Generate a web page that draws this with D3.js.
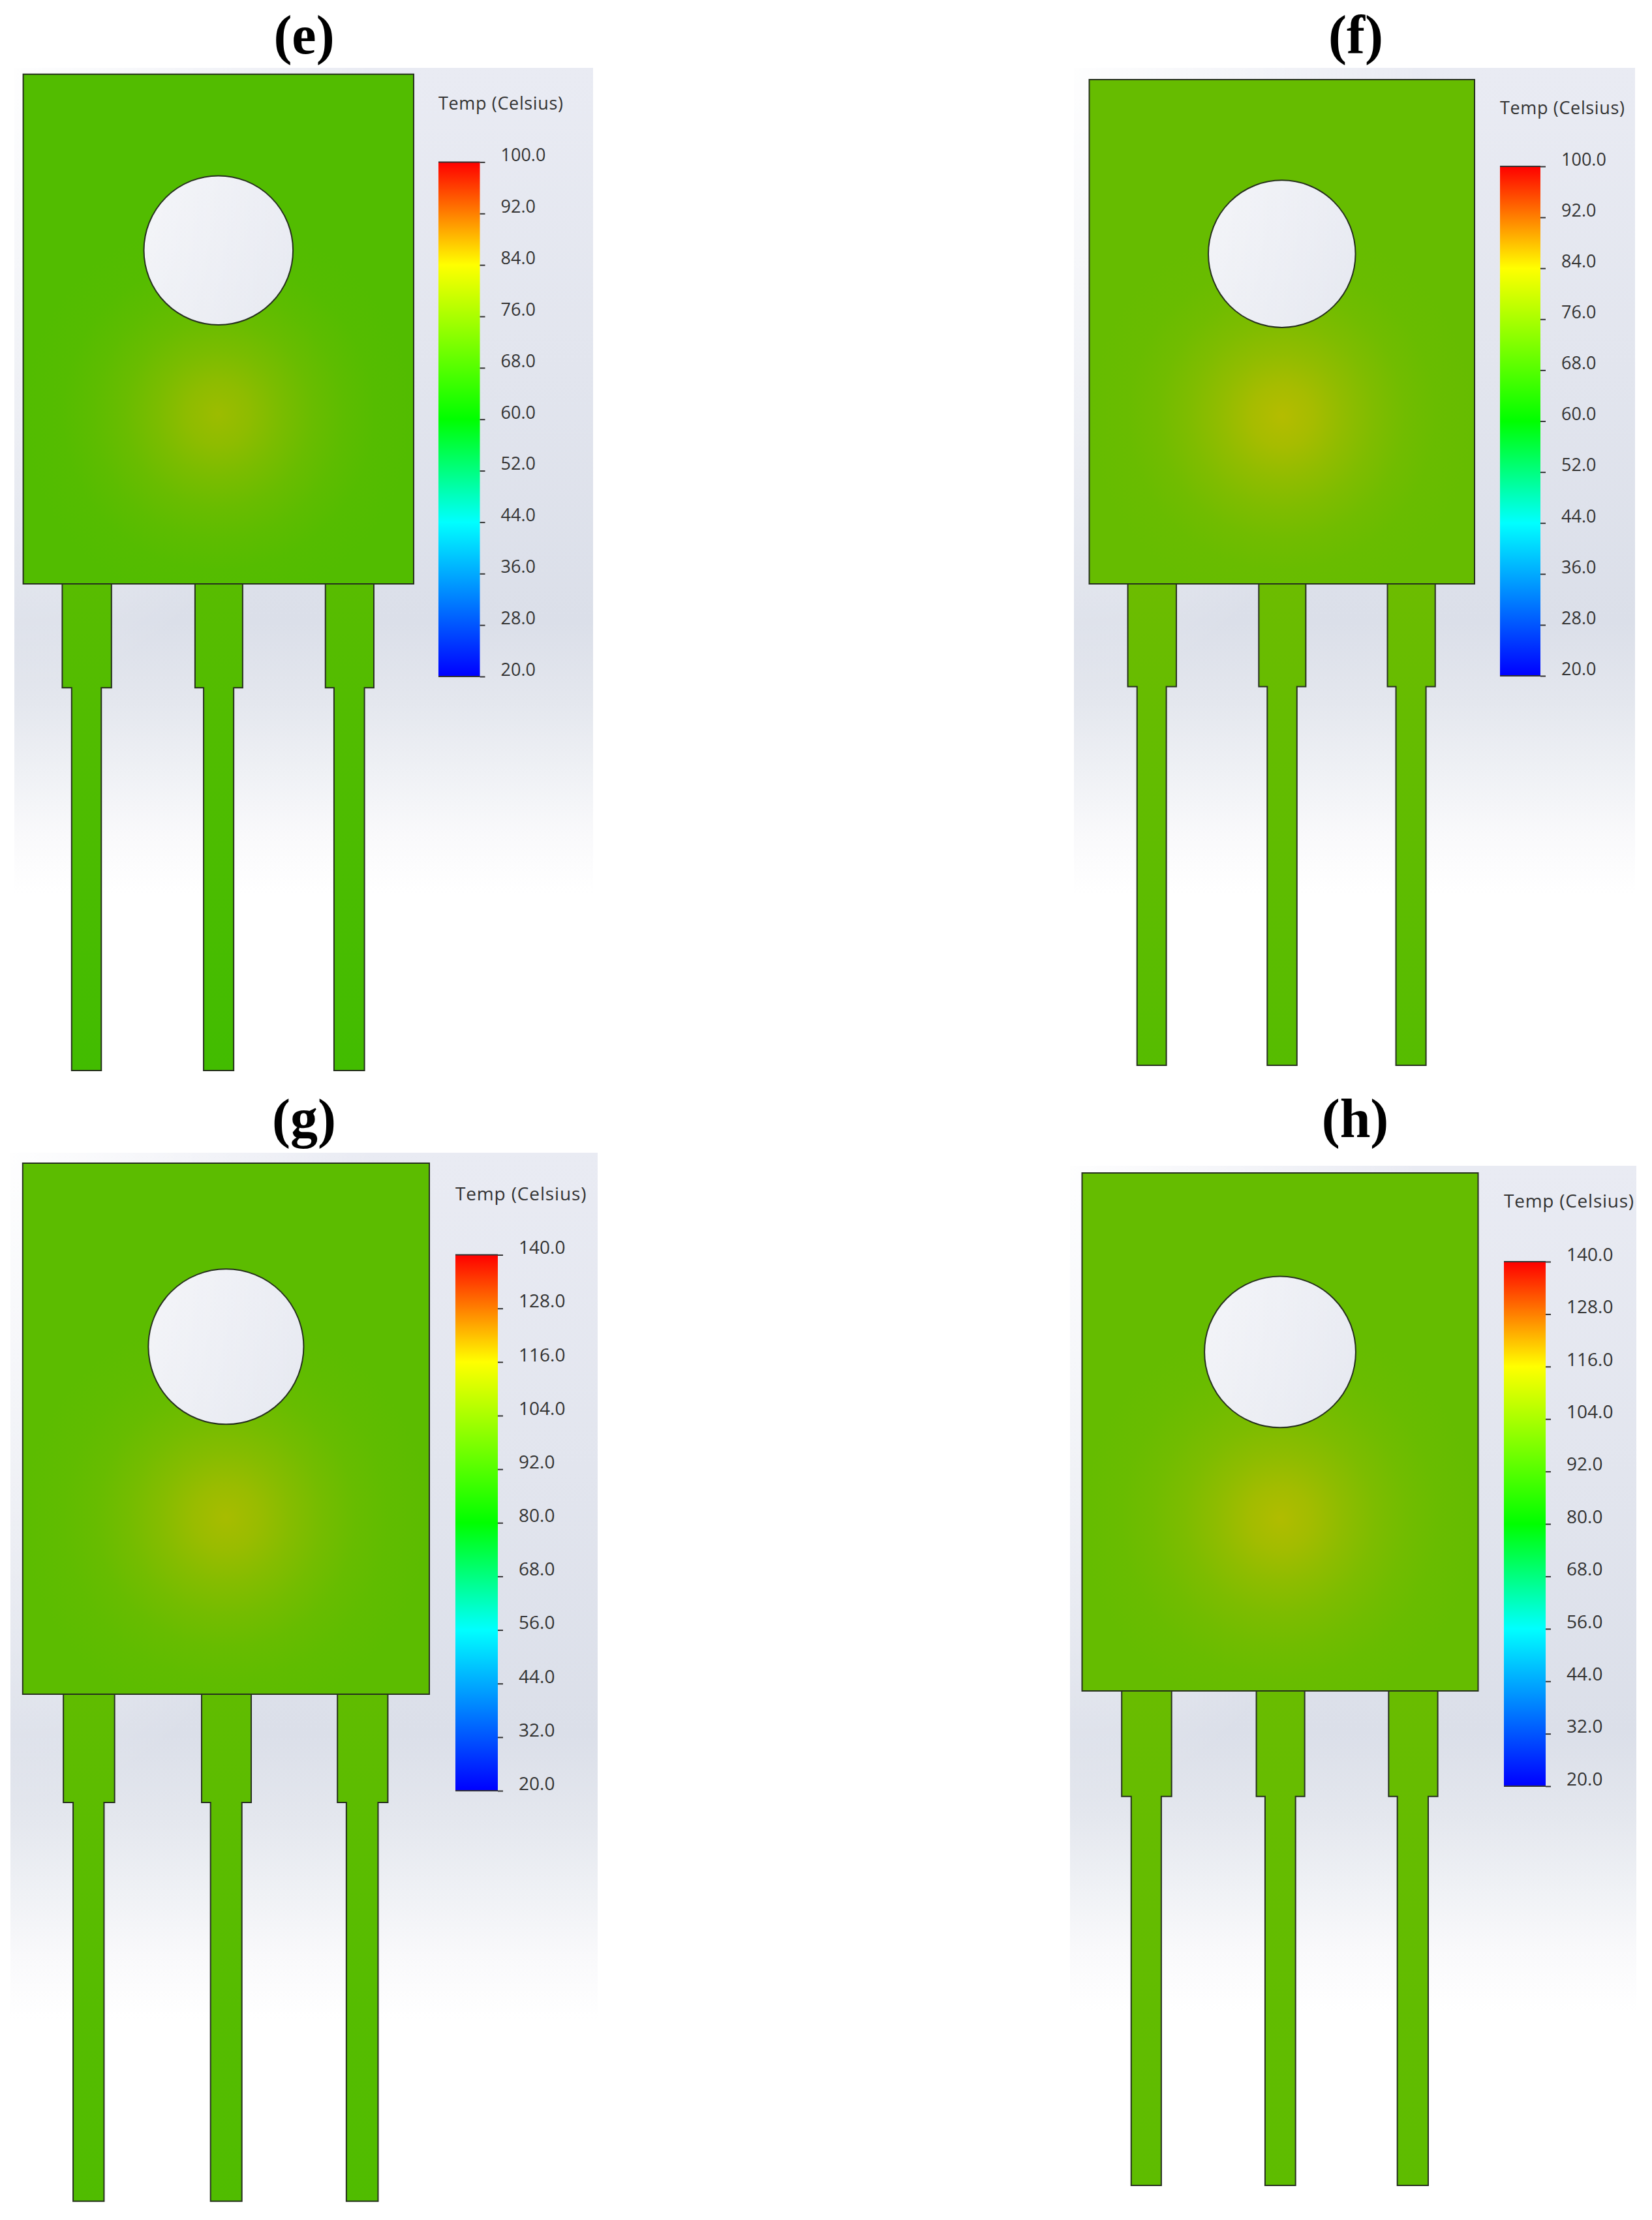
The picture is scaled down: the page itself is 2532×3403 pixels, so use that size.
<!DOCTYPE html>
<html lang="en">
<head>
	<meta charset="UTF-8">
	<title>Temperature maps</title>
	<style>
		html, body { margin: 0; padding: 0; background: #fff; }
		svg { display: block; }
	</style>
</head>
<body>
	<svg width="2532" height="3403"></svg>

	<script src="https://d3js.org/d3.v7.min.js"></script>
	<script>
		// values
		var panelNames = ["(e)", "(f)", "(g)", "(h)"];
		var scaleMin = [20, 20, 20, 20];
		var scaleMax = [100, 100, 140, 140];
		var ticksLow = [100, 92, 84, 76, 68, 60, 52, 44, 36, 28, 20];
		var ticksHigh = [140, 128, 116, 104, 92, 80, 68, 56, 44, 32, 20];
		var bodyTemp = [70.4, 73, 97.6, 99.4];   // far from the hot spot
		var peakTemp = [79.9, 83, 112, 113.7];   // hot spot centre
		var tipTemp = [68.5, 71, 95.2, 98];      // lower end of the leads

		// fall off of the hot spot, device units from the centre / share of the rise
		var heatRadius = [0, 8, 16, 24, 32, 40, 50];
		var heatShare = [1, 0.82, 0.55, 0.32, 0.15, 0.05, 0];

		// rainbow of the legend, position along the bar / colour
		var rampPos = [0, 0.3, 0.5, 0.8, 1];
		var rampColors = ["#0000ff", "#00ffff", "#00ff00", "#ffff00", "#ff0000"];

		// device outline in its own units, body is 100 wide
		var bodyW = 100, bodyH = 130.5;
		var holeX = 50, holeY = 45.1, holeR = 19.1;
		var hotX = 50, hotY = 87;
		var leadLeft = [10, 44, 77.4];
		var leadRight = [22.6, 56.2, 89.8];
		var pinLeft = [12.4, 46.2, 79.6];
		var pinRight = [20, 53.9, 87.4];
		var leadEnd = 157.1, pinEnd = 255.1;

		// where each panel sits on the page, body is left, top, width, height
		var layout = [
			{title: [466, 82], box: [22, 104, 909, 1649], body: [35.6, 113.7, 598.4, 781.3], bar: [672, 735.5, 248.4, 1037], head: 168, font: 27, spacing: 0.65},
			{title: [2078, 82], box: [1646, 104, 2506, 1650], body: [1669.5, 122, 590.5, 773], bar: [2299, 2361, 255, 1036], head: 175, font: 27, spacing: 0.65},
			{title: [466, 1743], box: [16, 1767, 916, 3388], body: [34.8, 1783, 623.2, 814], bar: [698, 763, 1923.5, 2745], head: 1840, font: 28, spacing: 0.85},
			{title: [2077, 1743], box: [1640, 1787, 2508, 3368], body: [1658.5, 1798, 607, 794], bar: [2305, 2369, 1934, 2738], head: 1851, font: 28, spacing: 0.75}
		];

		var svg = d3.select("svg");
		var defs = svg.append("defs");

		var ramp = d3.scaleLinear().domain(rampPos).range(rampColors);

		// the screenshot is lit, so every colour on the part is a bit darker than the legend
		function partColor(share) {
			var c = d3.rgb(ramp(share));
			return d3.rgb(c.r * 0.737, c.g * 0.737, c.b * 0.737).formatHex();
		}

		// window background
		var bgStops = [
			[0, "#e9ebf3"], [0.3, "#e2e5ee"], [0.55, "#dbdfe9"], [0.63, "#e4e7ee"],
			[0.7, "#eff1f5"], [0.76, "#f9f9fb"], [0.82, "#ffffff"], [1, "#ffffff"]
		];
		var bgGrad = defs.append("linearGradient").attr("id", "bg").attr("x1", 0).attr("y1", 0).attr("x2", 0).attr("y2", 1);
		bgStops.forEach(function(s) {
			bgGrad.append("stop").attr("offset", s[0]).attr("stop-color", s[1]);
		});
		var glow = defs.append("radialGradient").attr("id", "glow").attr("cx", 0).attr("cy", 0).attr("r", 0.62);
		glow.append("stop").attr("offset", 0).attr("stop-color", "#fff").attr("stop-opacity", 0.95);
		glow.append("stop").attr("offset", 1).attr("stop-color", "#fff").attr("stop-opacity", 0);

		var barGrad = defs.append("linearGradient").attr("id", "bar").attr("x1", 0).attr("y1", 1).attr("x2", 0).attr("y2", 0);
		rampPos.forEach(function(p, i) {
			barGrad.append("stop").attr("offset", p).attr("stop-color", rampColors[i]);
		});

		var pathLine = d3.line();

		panelNames.forEach(function(name, i) {
			var l = layout[i];
			var g = svg.append("g");
			var share = d3.scaleLinear().domain([scaleMin[i], scaleMax[i]]).range([0, 1]);
			var unit = l.body[2] / bodyW;
			var x = d3.scaleLinear().domain([0, bodyW]).range([l.body[0], l.body[0] + l.body[2]]);
			var y = d3.scaleLinear().domain([0, bodyH]).range([l.body[1], l.body[1] + l.body[3]]);

			g.append("rect")
				.attr("x", l.box[0]).attr("y", l.box[1])
				.attr("width", l.box[2] - l.box[0]).attr("height", l.box[3] - l.box[1])
				.attr("fill", "url(#bg)");
			g.append("rect")
				.attr("x", l.box[0]).attr("y", l.box[1])
				.attr("width", l.box[2] - l.box[0]).attr("height", l.box[3] - l.box[1])
				.attr("fill", "url(#glow)");

			// leads first, the body covers their top edge
			var leadGrad = defs.append("linearGradient")
				.attr("id", "lead" + i)
				.attr("gradientUnits", "userSpaceOnUse")
				.attr("x1", 0).attr("x2", 0)
				.attr("y1", y(bodyH)).attr("y2", y(pinEnd));
			leadGrad.append("stop").attr("offset", 0).attr("stop-color", partColor(share(bodyTemp[i] + 0.8)));
			leadGrad.append("stop").attr("offset", 1).attr("stop-color", partColor(share(tipTemp[i])));

			leadLeft.forEach(function(left, k) {
				var pts = [
					[left, bodyH], [left, leadEnd], [pinLeft[k], leadEnd], [pinLeft[k], pinEnd],
					[pinRight[k], pinEnd], [pinRight[k], leadEnd], [leadRight[k], leadEnd], [leadRight[k], bodyH]
				].map(function(p) { return [x(p[0]), y(p[1])]; });
				g.append("path")
					.attr("d", pathLine(pts) + "Z")
					.attr("fill", "url(#lead" + i + ")")
					.attr("stroke", "#26301e")
					.attr("stroke-width", 2);
			});

			// body with hole, coloured by distance from the hot spot
			var heat = defs.append("radialGradient")
				.attr("id", "heat" + i)
				.attr("gradientUnits", "userSpaceOnUse")
				.attr("cx", x(hotX)).attr("cy", y(hotY))
				.attr("r", heatRadius[heatRadius.length - 1] * unit);
			heatRadius.forEach(function(r, k) {
				var temp = bodyTemp[i] + (peakTemp[i] - bodyTemp[i]) * heatShare[k];
				heat.append("stop")
					.attr("offset", r / heatRadius[heatRadius.length - 1])
					.attr("stop-color", partColor(share(temp)));
			});

			var hole = d3.path();
			hole.moveTo(x(holeX + holeR), y(holeY));
			hole.arc(x(holeX), y(holeY), holeR * unit, 0, Math.PI * 2);
			hole.closePath();
			var outline = pathLine([[x(0), y(0)], [x(bodyW), y(0)], [x(bodyW), y(bodyH)], [x(0), y(bodyH)]]) + "Z";
			g.append("path")
				.attr("d", outline + hole.toString())
				.attr("fill", "url(#heat" + i + ")")
				.attr("fill-rule", "evenodd")
				.attr("stroke", "#26301e")
				.attr("stroke-width", 2);

			// legend
			var barScale = d3.scaleLinear()
				.domain([scaleMin[i], scaleMax[i]])
				.range([l.bar[3], l.bar[2]]);
			var barW = l.bar[1] - l.bar[0];

			g.append("rect")
				.attr("x", l.bar[0]).attr("y", l.bar[2])
				.attr("width", barW).attr("height", l.bar[3] - l.bar[2])
				.attr("fill", "url(#bar)");

			var axis = d3.axisRight(barScale)
				.tickValues(scaleMax[i] === 100 ? ticksLow : ticksHigh)
				.tickSize(8)
				.tickPadding(24)
				.tickFormat(d3.format(".1f"));

			var axisG = g.append("g")
				.attr("transform", "translate(" + l.bar[1] + ",0)")
				.call(axis);
			axisG.select(".domain").remove();
			axisG.selectAll("line").attr("stroke", "#333").attr("stroke-width", 2);
			axisG.selectAll("text")
				.attr("dy", "-0.06em")
				.attr("fill", "#333")
				.attr("font-family", "'Open Sans'")
				.attr("font-size", l.font);
			// the two end ticks run over the whole bar
			[scaleMin[i], scaleMax[i]].forEach(function(v) {
				g.append("line")
					.attr("x1", l.bar[0]).attr("x2", l.bar[1])
					.attr("y1", barScale(v)).attr("y2", barScale(v))
					.attr("stroke", "#333").attr("stroke-width", 2);
			});

			g.append("text")
				.attr("x", l.bar[0]).attr("y", l.head)
				.attr("fill", "#333")
				.attr("font-family", "'Open Sans'")
				.attr("font-size", l.font)
				.attr("letter-spacing", l.spacing)
				.text("Temp (Celsius)");

			svg.append("text")
				.attr("x", l.title[0]).attr("y", l.title[1])
				.attr("text-anchor", "middle")
				.attr("font-family", "'Liberation Serif'")
				.attr("font-weight", "bold")
				.attr("font-size", 84)
				.text(name);
		});
	</script>
</body>
</html>
